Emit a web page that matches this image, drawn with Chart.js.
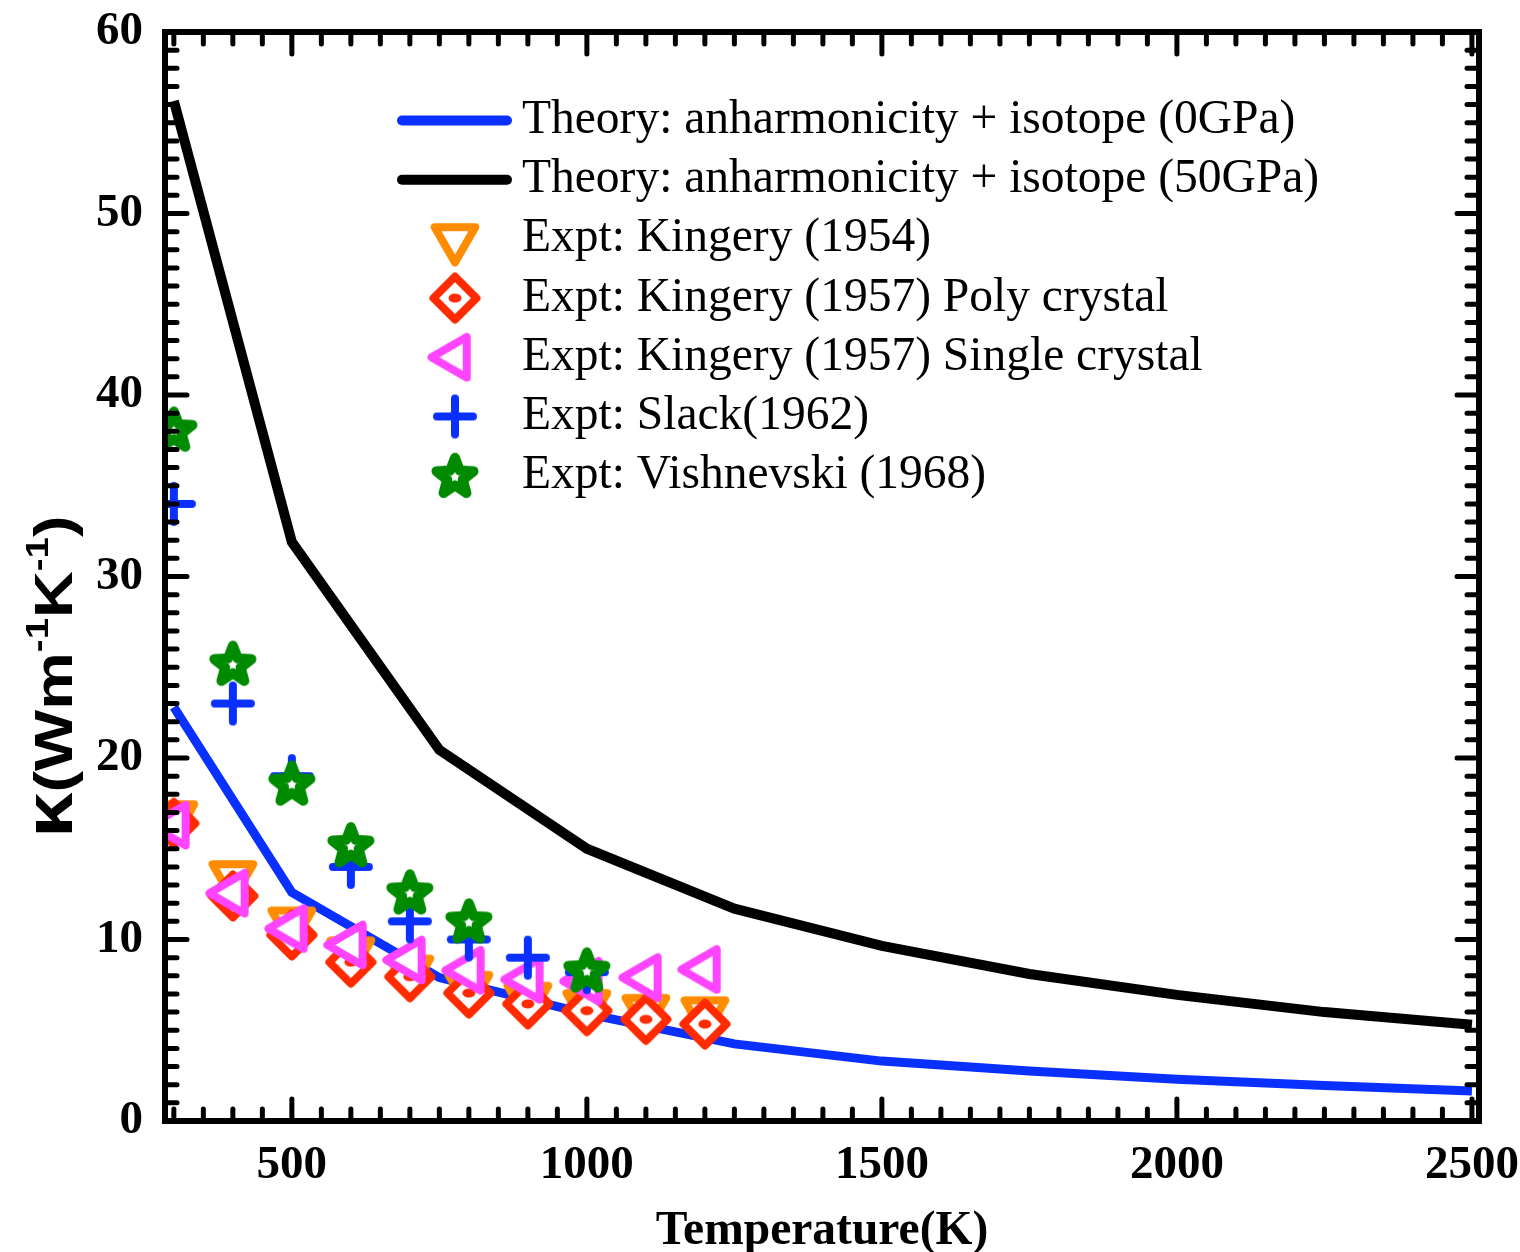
<!DOCTYPE html>
<html>
<head>
<meta charset="utf-8">
<script src="https://cdn.jsdelivr.net/npm/chart.js@4.4.1/dist/chart.umd.min.js"></script>
<style>
  html, body { margin: 0; padding: 0; background: #fff; }
  #wrap { width: 1520px; height: 1252px; }
</style>
</head>
<body>
<div id="wrap"><canvas id="chart" width="1520" height="1252"></canvas></div>
<script>
// theory curves
const theoryTemps = [300, 500, 750, 1000, 1250, 1500, 1750, 2000, 2250, 2500];
const theory0GPa = [22.8, 12.6, 7.9, 5.9, 4.25, 3.3, 2.75, 2.3, 1.95, 1.65];
const theory50GPa = [56.2, 31.9, 20.45, 15.0, 11.7, 9.65, 8.1, 6.95, 6.0, 5.3];

// experiments
const kingeryTemps = [300, 400, 500, 600, 700, 800, 900, 1000, 1100, 1200];
const kingery1954 = [16.8, 13.5, 10.95, 9.3, 8.3, 7.4, 6.8, 6.4, 6.13, 6.0];
const kingeryPoly = [16.4, 12.4, 10.25, 8.75, 7.95, 7.05, 6.45, 6.08, 5.6, 5.34];
const kingerySingle = [16.3, 12.55, 10.6, 9.7, 8.87, 8.3, 7.8, 7.7, 7.9, 8.35];

const slackTemps = [300, 400, 500, 600, 700, 800, 900, 1000];
const slack1962 = [34.0, 23.0, 19.0, 14.0, 11.0, 10.0, 9.0, 8.2];

const vishTemps = [300, 400, 500, 600, 700, 800, 1000];
const vish1968 = [38.1, 25.2, 18.6, 15.2, 12.6, 11.0, 8.3];

const xTickLabels = [500, 1000, 1500, 2000, 2500];
const yTickLabels = [0, 10, 20, 30, 40, 50, 60];

const BLUE = '#0a30ff';
const SERIF = '"Liberation Serif", "Times New Roman", serif';
const SANS = '"Liberation Sans", Arial, sans-serif';

const pts = (xs, ys) => xs.map((x, i) => ({ x: x, y: ys[i] }));

// marker images, used for the plot and the legend
function makeMarker(color, draw) {
    const c = document.createElement('canvas');
    c.width = 60;
    c.height = 60;
    const ctx = c.getContext('2d');
    ctx.translate(30, 30);
    ctx.strokeStyle = color;
    ctx.fillStyle = '#fff';
    ctx.lineWidth = 8;
    ctx.lineJoin = 'round';
    ctx.lineCap = 'round';
    draw(ctx);
    return c;
}

function triangle(ctx, rot) {
    const r = 23.5;
    ctx.beginPath();
    for (let i = 0; i < 3; i++) {
        const a = rot + i * 2 * Math.PI / 3;
        ctx.lineTo(r * Math.cos(a), r * Math.sin(a));
    }
    ctx.closePath();
    ctx.fill();
    ctx.stroke();
}

const downTri = makeMarker('#ff8c00', ctx => triangle(ctx, Math.PI / 2));
const leftTri = makeMarker('#ff44ff', ctx => triangle(ctx, Math.PI));
const diamond = makeMarker('#ff2a00', ctx => {
    const d = 21.5;
    ctx.beginPath();
    ctx.moveTo(0, -d); ctx.lineTo(d, 0); ctx.lineTo(0, d); ctx.lineTo(-d, 0);
    ctx.closePath();
    ctx.fill();
    ctx.stroke();
    ctx.fillStyle = '#ff2a00';
    ctx.beginPath();
    ctx.ellipse(0, 0, 6.5, 4.5, 0, 0, Math.PI * 2);
    ctx.fill();
});
const plus = makeMarker(BLUE, ctx => {
    ctx.beginPath();
    ctx.moveTo(-18, 0); ctx.lineTo(18, 0);
    ctx.moveTo(0, -18); ctx.lineTo(0, 18);
    ctx.stroke();
});
const star = makeMarker('#008a00', ctx => {
    ctx.lineWidth = 10;
    ctx.beginPath();
    for (let i = 0; i < 10; i++) {
        const r = i % 2 === 0 ? 19.5 : 8.2;
        const a = -Math.PI / 2 + i * Math.PI / 5;
        ctx.lineTo(r * Math.cos(a), r * Math.sin(a) + 1.5);
    }
    ctx.closePath();
    ctx.fill();
    ctx.stroke();
});

function markerSet(label, xs, ys, img, order) {
    return {
        label: label,
        data: pts(xs, ys),
        pointStyle: img,
        pointRadius: 22,
        pointHoverRadius: 22,
        showLine: false,
        clip: 0,
        order: order
    };
}

// no label overhang padding, the layout padding fixes the plot box
function fixPadding(s) {
    s.paddingTop = 0;
    s.paddingBottom = 0;
    s.paddingLeft = 0;
    s.paddingRight = 0;
}

// frame with inward ticks on all four sides
const framePlugin = {
    id: 'frame',
    afterDatasetsDraw(chart) {
        const { ctx, chartArea: a, scales: { x, y } } = chart;
        const seg = (x1, y1, x2, y2) => {
            ctx.beginPath(); ctx.moveTo(x1, y1); ctx.lineTo(x2, y2); ctx.stroke();
        };
        ctx.save();
        ctx.strokeStyle = '#000';
        ctx.lineCap = 'round';
        ctx.lineWidth = 5;
        for (let v = 300; v <= 2500; v += 50) {
            const px = x.getPixelForValue(v);
            const len = v % 500 === 0 ? 22 : 12;
            seg(px, a.bottom, px, a.bottom - len);
            seg(px, a.top, px, a.top + len);
        }
        for (let v = 0; v <= 60; v += 1) {
            const py = y.getPixelForValue(v);
            const len = v % 10 === 0 ? 22 : 12;
            seg(a.left, py, a.left + len, py);
            seg(a.right, py, a.right - len, py);
        }
        ctx.lineCap = 'butt';
        ctx.lineWidth = 6;
        ctx.strokeRect(a.left, a.top, a.right - a.left, a.bottom - a.top);
        ctx.restore();
    }
};

// y title with real superscripts
const yTitleParts = [
    { text: 'κ', size: 68, rise: 0 },
    { text: '(Wm', size: 54, rise: 0 },
    { text: '-1', size: 32, rise: 24 },
    { text: 'K', size: 54, rise: 0 },
    { text: '-1', size: 32, rise: 24 },
    { text: ')', size: 54, rise: 0 }
];

const yTitlePlugin = {
    id: 'yTitle',
    afterDraw(chart) {
        const ctx = chart.ctx;
        ctx.save();
        ctx.translate(72, 838);
        ctx.rotate(-Math.PI / 2);
        ctx.scale(1.2, 1);
        ctx.fillStyle = '#000';
        ctx.textBaseline = 'alphabetic';
        let pos = 0;
        yTitleParts.forEach(p => {
            ctx.font = 'bold ' + p.size + 'px ' + SANS;
            ctx.fillText(p.text, pos, -p.rise);
            pos += ctx.measureText(p.text).width;
        });
        ctx.restore();
    }
};

// legend inside the plot area
const legendPlugin = {
    id: 'insideLegend',
    afterDraw(chart) {
        const ctx = chart.ctx;
        ctx.save();
        ctx.font = '47.5px ' + SERIF;
        ctx.textBaseline = 'middle';
        chart.data.datasets.forEach((ds, i) => {
            const y = 120.5 + i * 59.2;
            if (ds.showLine) {
                ctx.strokeStyle = ds.borderColor;
                ctx.lineWidth = 10;
                ctx.lineCap = 'round';
                ctx.beginPath();
                ctx.moveTo(402, y);
                ctx.lineTo(507, y);
                ctx.stroke();
            } else {
                const img = ds.pointStyle;
                ctx.drawImage(img, 455 - img.width / 2, y - img.height / 2);
            }
            ctx.fillStyle = '#000';
            ctx.fillText(ds.label, 522, y);
        });
        ctx.restore();
    }
};

const tickFont = { family: SERIF, size: 47, weight: 'bold', lineHeight: 1 };

new Chart(document.getElementById('chart'), {
    type: 'scatter',
    data: {
        datasets: [
            {
                label: 'Theory: anharmonicity + isotope (0GPa)',
                data: pts(theoryTemps, theory0GPa),
                showLine: true,
                borderColor: BLUE,
                borderWidth: 9,
                pointRadius: 0,
                fill: false,
                clip: 0,
                order: 6
            },
            {
                label: 'Theory: anharmonicity + isotope (50GPa)',
                data: pts(theoryTemps, theory50GPa),
                showLine: true,
                borderColor: '#000',
                borderWidth: 10,
                pointRadius: 0,
                fill: false,
                clip: 0,
                order: 7
            },
            markerSet('Expt: Kingery (1954)', kingeryTemps, kingery1954, downTri, 5),
            markerSet('Expt: Kingery (1957) Poly crystal', kingeryTemps, kingeryPoly, diamond, 4),
            markerSet('Expt: Kingery (1957) Single crystal', kingeryTemps, kingerySingle, leftTri, 3),
            markerSet('Expt: Slack(1962)', slackTemps, slack1962, plus, 2),
            markerSet('Expt: Vishnevski (1968)', vishTemps, vish1968, star, 1)
        ]
    },
    options: {
        responsive: false,
        animation: false,
        devicePixelRatio: 1,
        layout: { padding: { left: 0, top: 32, right: 41, bottom: 0 } },
        plugins: {
            legend: { display: false },
            tooltip: { enabled: false }
        },
        scales: {
            x: {
                type: 'linear',
                position: 'bottom',
                min: 285,
                max: 2512,
                grid: { display: false, drawTicks: false },
                border: { display: false },
                ticks: {
                    color: '#000',
                    font: tickFont,
                    padding: 21,
                    maxRotation: 0,
                    autoSkip: false,
                    callback: v => String(v)
                },
                afterBuildTicks: s => { s.ticks = xTickLabels.map(v => ({ value: v })); },
                afterFit: s => { s.height = 131; fixPadding(s); },
                title: {
                    display: true,
                    text: 'Temperature(K)',
                    color: '#000',
                    font: { family: SERIF, size: 47.5, weight: 'bold', lineHeight: 0.84 },
                    padding: { top: 0, bottom: 0 }
                }
            },
            y: {
                type: 'linear',
                position: 'left',
                min: 0,
                max: 60,
                grid: { display: false, drawTicks: false },
                border: { display: false },
                ticks: {
                    color: '#000',
                    font: tickFont,
                    padding: 22,
                    autoSkip: false,
                    callback: v => String(v)
                },
                afterBuildTicks: s => { s.ticks = yTickLabels.map(v => ({ value: v })); },
                afterFit: s => { s.width = 165; fixPadding(s); }
            }
        }
    },
    plugins: [framePlugin, yTitlePlugin, legendPlugin]
});
</script>
</body>
</html>
